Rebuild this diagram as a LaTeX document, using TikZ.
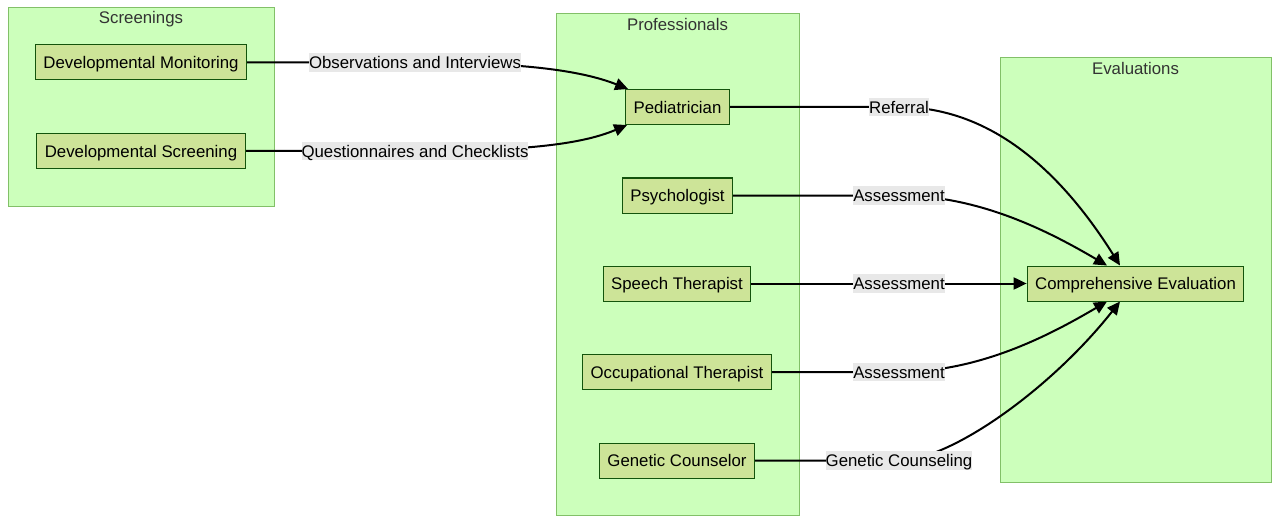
\documentclass[tikz,border=0pt]{standalone}
\usepackage{fontspec}
\setmainfont{Liberation Sans}
\usetikzlibrary{arrows.meta}
\definecolor{clfill}{HTML}{CCFFBB}
\definecolor{clstroke}{HTML}{82C068}
\definecolor{ndfill}{HTML}{CDE498}
\definecolor{ndstroke}{HTML}{13540C}
\definecolor{lblbg}{HTML}{E8E8E8}
\definecolor{titlec}{HTML}{333333}
\pgfdeclarelayer{back}
\pgfdeclarelayer{edges}
\pgfsetlayers{back,edges,main}
\tikzset{
  box/.style={draw=ndstroke, fill=ndfill, line width=1pt, inner xsep=8pt, inner ysep=0pt,
    minimum height=35pt, text height=14.3pt, text depth=1.8pt, font=\fontsize{16.8}{20}\selectfont},
  lbl/.style={fill=lblbg, inner xsep=0pt, inner ysep=1pt, text height=14.3pt, text depth=1.8pt,
    font=\fontsize{16.8}{20}\selectfont},
  cluster/.style={draw=clstroke, fill=clfill, line width=1pt},
  ctitle/.style={text=titlec, inner sep=0pt, text height=14.3pt, text depth=1.8pt, font=\fontsize{16.8}{20}\selectfont},
  edge/.style={draw=black, line width=2pt, -{Triangle[length=13pt,width=12pt]}},
}
\begin{document}
\begin{tikzpicture}[x=1pt,y=-1pt]
\useasboundingbox (0,0) rectangle (1280,524);
\begin{pgfonlayer}{back}
  \draw[cluster] (8,8) rectangle (274,206);
  \draw[cluster] (556,14) rectangle (799,515);
  \draw[cluster] (1000,58) rectangle (1271,482);
\end{pgfonlayer}
\node[ctitle] (t1) at (141,17.5) {Screenings};
\node[ctitle] (t2) at (677.5,24) {Professionals};
\node[ctitle] (t3) at (1135.5,68) {Evaluations};

\node[box] (dm) at (141,62.5) {Developmental Monitoring};
\node[box] (ds) at (141,151) {Developmental Screening};
\node[box] (ped) at (677.5,107) {Pediatrician};
\node[box] (psy) at (677.5,195.5) {Psychologist};
\node[box] (spt) at (677,283.5) {Speech Therapist};
\node[box] (ot) at (677,372) {Occupational Therapist};
\node[box] (gc) at (677,460.5) {Genetic Counselor};
\node[box] (ce) at (1135.5,283.5) {Comprehensive Evaluation};

\node[lbl] (l1) at (415,62.5) {Observations and Interviews};
\node[lbl] (l2) at (415,151) {Questionnaires and Checklists};
\node[lbl] (l3) at (899,107) {Referral};
\node[lbl] (l4) at (899,195.5) {Assessment};
\node[lbl] (l5) at (899,283.5) {Assessment};
\node[lbl] (l6) at (899,372) {Assessment};
\node[lbl] (l7) at (899,460.5) {Genetic Counseling};

\begin{pgfonlayer}{edges}
  \draw[edge] (dm.east) -- (l1.center) .. controls (520,62.5) and (580,70) .. ([xshift=3pt]ped.north west);
  \draw[edge] (ds.east) -- (l2.center) .. controls (520,151) and (580,145) .. ([xshift=2pt]ped.south west);
  \draw[edge] (ped.east) -- (l3.center) .. controls (990,107) and (1060,170) .. ([xshift=-15.5pt]ce.north);
  \draw[edge] (psy.east) -- (l4.center) .. controls (980,195.5) and (1050,232) .. ([xshift=-28.5pt]ce.north);
  \draw[edge] (spt.east) -- (ce.west);
  \draw[edge] (ot.east) -- (l6.center) .. controls (980,372) and (1050,335) .. ([xshift=-28.5pt]ce.south);
  \draw[edge] (gc.east) -- (l7.center) .. controls (950,460.5) and (1050,390) .. ([xshift=-15.5pt]ce.south);
\end{pgfonlayer}
\end{tikzpicture}
\end{document}
